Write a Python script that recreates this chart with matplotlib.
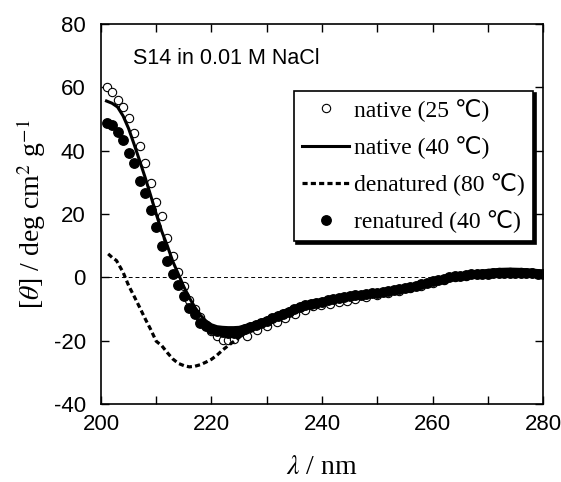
import numpy as np
import matplotlib.pyplot as plt
from matplotlib.ticker import MultipleLocator

plt.rcParams['axes.unicode_minus'] = False
plt.rcParams['mathtext.fontset'] = 'stix'

# native (25 C), open circles
lam_n25 = [201, 202, 203, 204, 205, 206, 207, 208, 209, 210, 211, 212, 213, 214, 215, 216,
           217, 218, 219, 220, 221, 222, 223, 224, 226.4, 228.2, 230, 231.8, 233.3, 235.1,
           236.9, 238.4, 239.9, 241.4, 243, 244.5, 246, 248, 250, 252, 254, 256, 258, 260,
           262, 264, 266, 268, 270, 272, 274, 276, 278, 280]
th_n25 = [60.2, 58.5, 56.0, 53.9, 50.2, 45.5, 41.5, 36.1, 29.8, 23.7, 19.3, 12.3, 6.6, 1.8,
          -2.9, -7.3, -9.9, -12.5, -15.0, -17.0, -18.5, -19.8, -19.8, -19.6, -18.5, -16.7,
          -15.4, -14.1, -12.9, -11.5, -10.2, -9.1, -8.7, -8.3, -7.9, -7.5, -7.0, -6.3, -5.7,
          -5.0, -4.3, -3.5, -2.6, -1.8, -0.8, 0.0, 0.5, 1.0, 1.4, 1.6, 1.8, 1.7, 1.4, 1.2]

# native (40 C), solid line
lam_n40 = [201, 202, 203, 204, 205, 206, 207, 208, 209, 210, 211, 212, 213, 214, 215, 216,
           217, 218, 219, 220, 221, 222, 223, 224, 225, 226, 228, 230, 232, 234, 236, 238,
           240, 242, 244, 246, 248, 250, 252, 254, 256, 258, 260, 262, 264, 266, 268, 270,
           272, 274, 276, 278, 280]
th_n40 = [55.7, 55.0, 53.8, 51.0, 47.0, 42.0, 36.8, 31.5, 25.8, 20.0, 14.5, 10.0, 5.0, 1.0,
          -3.0, -6.5, -9.5, -12.0, -13.8, -15.0, -15.6, -15.8, -15.9, -15.9, -15.8, -15.3,
          -14.3, -12.9, -11.4, -10.0, -8.6, -7.6, -7.0, -6.4, -5.8, -5.3, -4.8, -4.4, -4.0,
          -3.3, -2.5, -1.6, -0.8, 0.0, 0.8, 1.3, 1.8, 2.2, 2.5, 2.6, 2.5, 2.3, 2.0]

# denatured (80 C), dashed line
lam_d80 = [201.3, 202, 202.8, 204, 205, 206, 207, 208, 209, 210, 211, 212, 213, 214, 215,
           216, 217, 218, 219, 220, 221, 222, 223, 224, 225, 226, 228, 230, 232, 234, 236,
           238, 240, 242, 244, 246, 248, 250, 252, 254, 256, 258, 260, 262, 264, 266, 268,
           270, 272, 274, 276, 278, 280]
th_d80 = [7.4, 6.3, 5.3, 1.6, -2.6, -6.0, -9.5, -13.1, -16.5, -20.2, -21.6, -23.8, -25.8,
          -27.2, -27.9, -28.3, -28.1, -27.6, -26.8, -25.9, -24.6, -23.0, -21.6, -20.3, -19.0,
          -17.8, -15.8, -14.0, -12.5, -11.0, -9.6, -8.5, -7.6, -6.9, -6.3, -5.8, -5.3, -4.9,
          -4.4, -3.8, -3.1, -2.3, -1.5, -0.7, 0.0, 0.6, 1.0, 1.3, 1.5, 1.6, 1.5, 1.3, 1.1]

# renatured (40 C), filled circles
lam_r40 = list(range(201, 281))
th_r40 = [48.7, 48.0, 45.9, 43.4, 39.2, 36.1, 30.5, 26.6, 21.4, 15.8, 10.0, 5.3, 1.1, -2.4,
          -5.9, -9.7, -11.5, -14.3, -15.5, -16.3, -17.0, -17.3, -17.5, -17.5, -17.2, -16.3,
          -15.8, -15.1, -14.4, -13.7, -13.0, -12.3, -11.7, -10.9, -10.1, -9.3, -8.8, -8.4,
          -8.1, -7.8, -7.3, -6.8, -6.4, -6.1, -5.9, -5.7, -5.5, -5.3, -5.1, -4.9, -4.7, -4.4,
          -4.1, -3.8, -3.4, -3.0, -2.6, -2.2, -1.7, -1.2, -0.8, -0.4, 0.0, 0.3, 0.5, 0.7, 0.9,
          1.0, 1.1, 1.2, 1.3, 1.4, 1.4, 1.5, 1.5, 1.4, 1.4, 1.3, 1.2, 1.2]

fig = plt.figure(figsize=(5.61, 4.82), dpi=100)
ax = fig.add_axes([0.18, 0.162, 0.788, 0.788])

ax.axhline(0, color='k', lw=0.7, ls=(0, (4, 3)), zorder=1)
ax.plot(lam_n25, th_n25, 'o', mfc='white', mec='k', mew=0.8, ms=6, label='native (25 ℃)', zorder=2)
ax.plot(lam_r40, th_r40, 'o', color='k', ms=6.8, label='renatured (40 ℃)', zorder=3)
ax.plot(lam_n40, th_n40, '-', color='k', lw=2.2, label='native (40 ℃)', zorder=4)
ax.plot(lam_d80, th_d80, color='k', lw=2.3, ls=(0, (1.6, 1.0)), label='denatured (80 ℃)', zorder=4)

ax.set_xlim(200, 280)
ax.set_ylim(-40, 80)
ax.xaxis.set_major_locator(MultipleLocator(20))
ax.xaxis.set_minor_locator(MultipleLocator(10))
ax.yaxis.set_major_locator(MultipleLocator(20))
ax.tick_params(which='both', direction='in', top=True, right=True, length=6, width=1,
               labelsize=16)
ax.tick_params(axis='x', pad=7)
ax.tick_params(axis='y', pad=11)
for lab in ax.get_xticklabels() + ax.get_yticklabels():
    lab.set_family('Liberation Sans')
for s in ax.spines.values():
    s.set_linewidth(1.2)

ax.set_xlabel(r'$\lambda$ / nm', family='Liberation Serif', fontsize=20, labelpad=15)
ax.set_ylabel(r'[$\theta$] / deg cm$^2$ g$^{-1}$', family='Liberation Serif', fontsize=20, labelpad=4)

ax.text(0.072, 0.91, 'S14 in 0.01 M NaCl', transform=ax.transAxes, family='Liberation Sans',
        fontsize=15.5, va='center')

h, l = ax.get_legend_handles_labels()
order = [0, 2, 3, 1]
leg = ax.legend([h[i] for i in order], [l[i] for i in order], loc='upper right',
                bbox_to_anchor=(0.977, 0.825), frameon=True, fancybox=False,
                shadow={'color': 'k', 'alpha': 1}, edgecolor='k', framealpha=1,
                handlelength=2.0, handletextpad=0.2, labelspacing=0.6, borderpad=0.35,
                borderaxespad=0,
                prop={'family': ['Liberation Serif', 'DejaVu Sans'], 'size': 17})
leg.get_frame().set_linewidth(1.2)

fig.savefig('out.png', dpi=100)
